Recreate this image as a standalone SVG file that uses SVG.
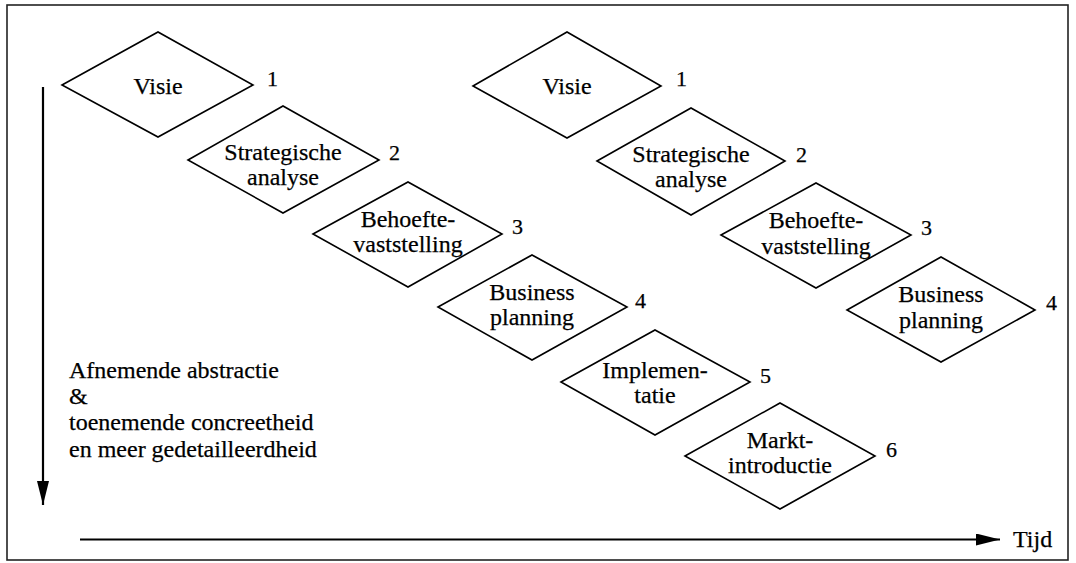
<svg xmlns="http://www.w3.org/2000/svg" width="1076" height="563" viewBox="0 0 1076 563">
  <style>
    .frame { fill: none; stroke: #222; stroke-width: 1.6; }
    .step polygon { fill: #fff; stroke: #000; stroke-width: 1.6; stroke-linejoin: miter; }
    text { font-family: "Liberation Serif", "Times New Roman", serif; fill: #000; stroke: #000; stroke-width: 0.25; }
    .lbl { font-size: 24px; text-anchor: middle; }
    .num { font-size: 22px; }
    .note { font-size: 24px; }
    .axis { stroke: #000; stroke-width: 2.2; fill: none; }
  </style>
  <defs>
    <marker id="head" viewBox="0 0 24 12" refX="24" refY="6" markerWidth="24" markerHeight="12" markerUnits="userSpaceOnUse" orient="auto">
      <path d="M0,0 L24,6 L0,12 Z" fill="#000"/>
    </marker>
  </defs>

  <rect class="frame" x="7" y="5" width="1061" height="555"/>

  <!-- left sequence: six phases -->
  <g id="l-visie" class="step">
    <polygon points="62,85 158,32 253,85 158,137"/>
    <text class="lbl" x="158" y="94">Visie</text>
    <text class="num" x="267" y="86">1</text>
  </g>
  <g id="l-strategie" class="step">
    <polygon points="188,160 283,106 379,160 283,213"/>
    <text class="lbl" x="283" y="160">Strategische</text>
    <text class="lbl" x="283" y="185">analyse</text>
    <text class="num" x="389" y="160">2</text>
  </g>
  <g id="l-behoefte" class="step">
    <polygon points="313,234 408,182 502,234 408,287"/>
    <text class="lbl" x="408" y="227">Behoefte-</text>
    <text class="lbl" x="408" y="252">vaststelling</text>
    <text class="num" x="512" y="234">3</text>
  </g>
  <g id="l-business" class="step">
    <polygon points="438,307 532,255 627,307 532,360"/>
    <text class="lbl" x="532" y="300">Business</text>
    <text class="lbl" x="532" y="325">planning</text>
    <text class="num" x="635" y="308">4</text>
  </g>
  <g id="l-implementatie" class="step">
    <polygon points="561,382 655,330 750,382 655,435"/>
    <text class="lbl" x="655" y="378">Implemen-</text>
    <text class="lbl" x="655" y="403">tatie</text>
    <text class="num" x="760" y="383">5</text>
  </g>
  <g id="l-markt" class="step">
    <polygon points="685,456 780,403 875,456 780,509"/>
    <text class="lbl" x="780" y="448">Markt-</text>
    <text class="lbl" x="780" y="473">introductie</text>
    <text class="num" x="886" y="457">6</text>
  </g>

  <!-- right sequence: first four phases -->
  <g id="r-visie" class="step">
    <polygon points="473,86 567,32 661,86 567,138"/>
    <text class="lbl" x="567" y="94">Visie</text>
    <text class="num" x="676" y="86">1</text>
  </g>
  <g id="r-strategie" class="step">
    <polygon points="597,161 691,108 785,161 691,215"/>
    <text class="lbl" x="691" y="162">Strategische</text>
    <text class="lbl" x="691" y="187">analyse</text>
    <text class="num" x="796" y="162">2</text>
  </g>
  <g id="r-behoefte" class="step">
    <polygon points="721,235 816,183 911,235 816,288"/>
    <text class="lbl" x="816" y="228">Behoefte-</text>
    <text class="lbl" x="816" y="254">vaststelling</text>
    <text class="num" x="921" y="235">3</text>
  </g>
  <g id="r-business" class="step">
    <polygon points="847,310 941,257 1035,310 941,362"/>
    <text class="lbl" x="941" y="302">Business</text>
    <text class="lbl" x="941" y="328">planning</text>
    <text class="num" x="1046" y="310">4</text>
  </g>

  <!-- axes -->
  <g id="connectors">
    <line class="axis" x1="43" y1="87" x2="43" y2="505" marker-end="url(#head)"/>
    <line class="axis" x1="80" y1="539.5" x2="1000" y2="539.5" marker-end="url(#head)"/>
  </g>

  <g id="axis-labels">
    <text class="note" x="69" y="378">Afnemende abstractie</text>
    <text class="note" x="69" y="404">&amp;</text>
    <text class="note" x="69" y="430">toenemende concreetheid</text>
    <text class="note" x="69" y="457">en meer gedetailleerdheid</text>
    <text class="note" x="1013" y="547">Tijd</text>
  </g>
</svg>
